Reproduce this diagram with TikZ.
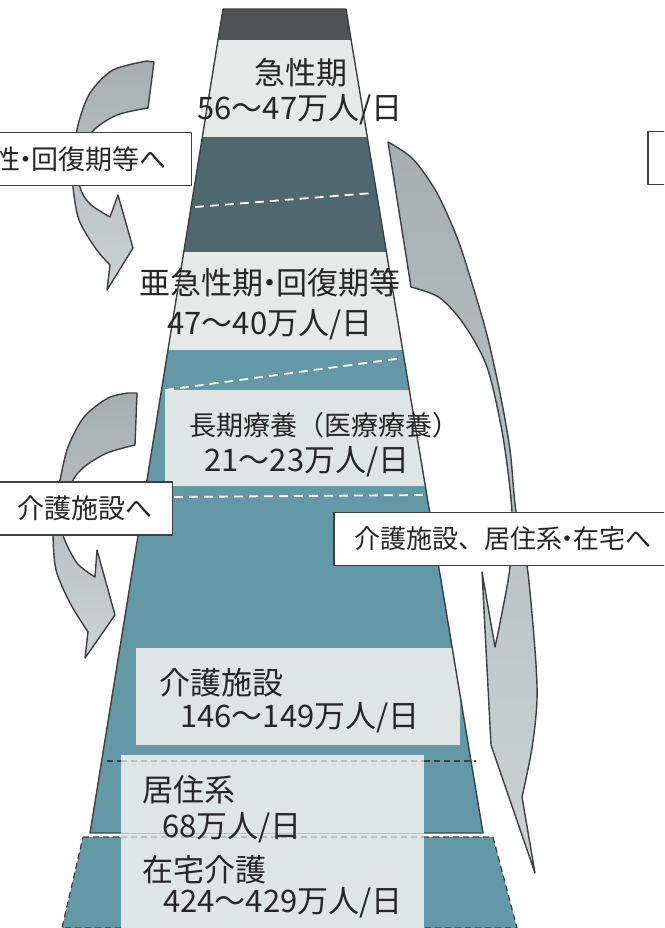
\documentclass[tikz,border=0pt]{standalone}
\usepackage{fontspec}
\setmainfont{Noto Sans CJK JP}
\newcommand\midpt{\kern-0.3em・\kern-0.3em}
\definecolor{ink}{HTML}{262626}
\definecolor{rim}{HTML}{3C3F41}
\definecolor{capband}{HTML}{505456}
\definecolor{paleband}{HTML}{E7E8E8}
\definecolor{slateband}{HTML}{4F6870}
\definecolor{tealband}{HTML}{6399A6}
\definecolor{palebox}{HTML}{DFE4E4}
\definecolor{arrowtop}{HTML}{A5AFB0}
\definecolor{arrowlow}{HTML}{CDD3D3}

\begin{document}
\begin{tikzpicture}[x=1pt, y=-1pt, line join=round,
    big/.style = {font=\fontsize{31}{34}\selectfont, text=ink, inner sep=0pt},
    tag/.style = {draw=rim, fill=white, line width=1.5pt, font=\fontsize{27}{30}\selectfont, text=ink, minimum height=53pt, inner xsep=20pt},
    curlarrow/.style = {draw=rim, line width=1.4pt, top color=arrowtop, bottom color=arrowlow},
    whitedash/.style = {white, line width=1.8pt, dash pattern=on 9pt off 6pt},
    seam/.style = {line width=1.2pt, dash pattern=on 6pt off 4pt}]
\useasboundingbox (0,0) rectangle (664,928);
\clip (0,0) rectangle (664,928);

\begin{scope}
  \clip (223,9) -- (346,9) -- (483,833) -- (90,833) -- cycle;
  \fill[capband] (0,9) rectangle (664,40);
  \fill[paleband] (0,40) rectangle (664,137);
  \fill[slateband] (0,137) rectangle (664,252);
  \fill[paleband] (0,252) rectangle (664,350);
  \fill[tealband] (0,350) rectangle (664,833);
  \fill[palebox] (165,390) rectangle (664,486);
  \fill[palebox] (136,648) rectangle (460,745);
\end{scope}
\fill[tealband] (83,837) -- (493,837) -- (517,928) -- (62,928) -- cycle;
\draw[rim, seam] (83,837) -- (493,837) -- (517,928) -- (62,928) -- cycle;
\fill[palebox] (121,755) rectangle (424,928);
\draw[rim, line width=1.4pt] (121,833) -- (90,833) -- (223,9) -- (346,9) -- (483,833) -- (424,833);
\draw[black!25, line width=1pt] (121,833) -- (424,833);
\draw[rim, seam] (107,761) -- (121,761) (424,761) -- (476,761);
\draw[black!25, seam] (121,761) -- (424,761) (121,837) -- (424,837);
\draw[whitedash] (195,207) -- (373,193);
\draw[whitedash] (165,390) -- (403,358);
\draw[whitedash] (174,497) -- (424,495);

\draw[curlarrow] (147,61) -- plot[smooth] coordinates {(147,61) (113,70) (90,93) (78,125) (73,160) (73,187) (79,220) (96,249) (110,265)}
  -- (107,290) -- (133,248) -- (118,195) -- (110,217)
  -- plot[smooth] coordinates {(110,217) (90,204) (80,187) (81,160) (92,132) (117,115) (148,108)} -- (154,62) -- cycle;
\draw[curlarrow] (128,393) -- plot[smooth] coordinates {(128,393) (108,398) (84,417) (68,447) (60,480) (54,510) (53,535) (56,570) (70,603) (88,632)}
  -- (85,658) -- (115,615) -- (97,550) -- (95,577)
  -- plot[smooth] coordinates {(95,577) (77,563) (63,535) (63,510) (72,482) (84,467) (107,453) (135,445)} -- (137,393) -- cycle;
\draw[curlarrow] (388,142) -- plot[smooth] coordinates {(388,142) (413,159) (437,193) (458,240) (474,290) (487,335) (500,393) (510,450) (516,512) (527,565) (535,650) (537,700) (532,748) (522,797)}
  -- (535,873) -- (491,745) -- (482,572) -- (495,647)
  -- plot[smooth] coordinates {(495,647) (500,623) (510,567) (512,512) (503,437) (487,367) (463,323) (440,298) (418,289)} -- (411,287) -- cycle;

\node[tag, anchor=east, inner xsep=25pt] (back) at (192,159) {性\midpt 回復期等へ};
\node[tag, anchor=east] (care) at (173,508.5) {介護施設へ};
\node[tag, anchor=west, inner xsep=21pt, font=\fontsize{26}{30}\selectfont] (home) at (333,539) {介護施設、居住系\midpt 在宅へ};
\node[tag, anchor=west, minimum width=40pt] (edge) at (647,158) {};

\node[big] (acute) at (301,73) {急性期};
\node[big] (acuten) at (300,110) {56～47万人/日};
\node[big] (sub) at (270,283) {亜急性期\midpt 回復期等};
\node[big] (subn) at (270,325) {47～40万人/日};
\node[big, font=\fontsize{27}{30}\selectfont] (long) at (324,425) {長期療養（医療療養）};
\node[big] (longn) at (307,462) {21～23万人/日};
\node[big, anchor=west] (fac) at (159,683) {介護施設};
\node[big, anchor=west] (facn) at (180,718) {146～149万人/日};
\node[big, anchor=west] (res) at (142,790) {居住系};
\node[big, anchor=west] (resn) at (162,828) {68万人/日};
\node[big, anchor=west] (hom) at (142,870) {在宅介護};
\node[big, anchor=west] (homn) at (163,903) {424～429万人/日};
\end{tikzpicture}
\end{document}
